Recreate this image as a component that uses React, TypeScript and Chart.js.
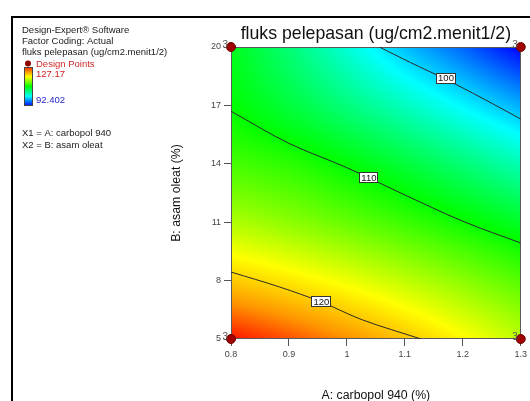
import React, { useEffect, useRef } from "react";
import { Chart, registerables } from "chart.js";

Chart.register(...registerables);

// ---------- data ----------
const TITLE = "fluks pelepasan (ug/cm2.menit1/2)";
const X_TITLE = "A: carbopol 940 (%)";
const Y_TITLE = "B: asam oleat (%)";
const INFO_LINES = ["Design-Expert® Software", "Factor Coding: Actual", "fluks pelepasan (ug/cm2.menit1/2)"];
const DESIGN_LABEL = "Design Points";
const X1_LINE = "X1 = A: carbopol 940";
const X2_LINE = "X2 = B: asam oleat";

const VMIN = 92.402;
const VMAX = 127.17;

// response grid (rows: B = 5..20, cols: A = 0.8..1.3)
const A_VALUES = [0.8, 0.9, 1.0, 1.1, 1.2, 1.3];
const B_VALUES = [5, 8, 11, 14, 17, 20];
const FLUX = [
  [127.17, 125.25, 123.2, 121.03, 118.72, 116.29],
  [120.82, 119.44, 117.93, 116.3, 114.53, 112.64],
  [115.82, 114.6, 113.24, 111.76, 110.16, 108.42],
  [112.16, 111.2, 109.6, 107.8, 105.8, 103.64],
  [109.83, 107.78, 105.6, 103.29, 100.86, 98.3],
  [108.85, 105.81, 102.45, 98.9, 95.8, 92.402],
];

// contour lines
const C100_A = [1.056, 1.11, 1.17, 1.235, 1.3];
const C100_B = [20, 19.2, 18.35, 17.35, 16.3];
const C110_A = [0.8, 0.9, 1.0, 1.1, 1.2, 1.3];
const C110_B = [16.7, 15.05, 13.8, 12.4, 11.05, 9.93];
const C120_A = [0.8, 0.884, 0.956, 1.027, 1.128];
const C120_B = [8.44, 7.67, 6.9, 5.98, 5.0];

const LABEL_VALUES = [100, 110, 120];
const LABEL_A = [1.171, 1.038, 0.956];
const LABEL_B = [18.39, 13.3, 6.93];

const DESIGN_A = [0.8, 0.8, 1.3, 1.3];
const DESIGN_B = [5, 20, 5, 20];
const REPLICATES = [3, 3, 3, 3];

const X_MIN = 0.8, X_MAX = 1.3, X_STEP = 0.1;
const Y_MIN = 5, Y_MAX = 20, Y_STEP = 3;

// ---------- helpers ----------
const FONT = 'Arial, "Liberation Sans", sans-serif';
const STOP_POS = [0, 0.25, 0.5, 0.75, 0.88, 1];
const STOPS = [
  [0, 0, 255],
  [0, 255, 255],
  [0, 255, 0],
  [255, 255, 0],
  [255, 150, 0],
  [255, 20, 0],
];

function colorAt(val: number): number[] {
  let t = (val - VMIN) / (VMAX - VMIN);
  if (t < 0) t = 0;
  if (t > 1) t = 1;
  let i = 0;
  while (i < STOP_POS.length - 2 && t > STOP_POS[i + 1]) i++;
  const f = (t - STOP_POS[i]) / (STOP_POS[i + 1] - STOP_POS[i]);
  const a = STOPS[i], b = STOPS[i + 1];
  return [a[0] + (b[0] - a[0]) * f, a[1] + (b[1] - a[1]) * f, a[2] + (b[2] - a[2]) * f];
}

function cr(p0: number, p1: number, p2: number, p3: number, t: number) {
  const t2 = t * t, t3 = t2 * t;
  return 0.5 * (2 * p1 + (-p0 + p2) * t + (2 * p0 - 5 * p1 + 4 * p2 - p3) * t2 + (-p0 + 3 * p1 - 3 * p2 + p3) * t3);
}

function sample(get: (k: number) => number, n: number, u: number) {
  let i = Math.floor(u);
  if (i > n - 2) i = n - 2;
  if (i < 0) i = 0;
  const t = u - i;
  const g = (k: number) => (k < 0 ? 2 * get(0) - get(1) : k > n - 1 ? 2 * get(n - 1) - get(n - 2) : get(k));
  return cr(g(i - 1), g(i), g(i + 1), g(i + 2), t);
}

function pts(xs: number[], ys: number[]) {
  return xs.map((x, i) => ({ x, y: ys[i] }));
}

// ---------- plugins ----------
const surfacePlugin = {
  id: "surface",
  beforeDatasetsDraw(chart: any) {
    const { ctx, chartArea, scales } = chart;
    const { left, top, right, bottom } = chartArea;
    const xs = scales.x, ys = scales.y;
    const w = Math.round(right - left), h = Math.round(bottom - top);
    const off = document.createElement("canvas");
    off.width = w;
    off.height = h;
    const octx = off.getContext("2d")!;
    const img = octx.createImageData(w, h);
    const nA = A_VALUES.length, nB = B_VALUES.length;
    const dA = A_VALUES[1] - A_VALUES[0], dB = B_VALUES[1] - B_VALUES[0];
    const cache = new Float64Array(w * nB);
    for (let px = 0; px < w; px++) {
      const A = xs.getValueForPixel(left + px + 0.5);
      const u = (A - A_VALUES[0]) / dA;
      for (let j = 0; j < nB; j++) {
        const row = FLUX[j];
        cache[px * nB + j] = sample((k) => row[k], nA, u);
      }
    }
    for (let py = 0; py < h; py++) {
      const B = ys.getValueForPixel(top + py + 0.5);
      const v = (B - B_VALUES[0]) / dB;
      for (let px = 0; px < w; px++) {
        const base = px * nB;
        const val = sample((k) => cache[base + k], nB, v);
        const c = colorAt(val);
        const o = (py * w + px) * 4;
        img.data[o] = c[0];
        img.data[o + 1] = c[1];
        img.data[o + 2] = c[2];
        img.data[o + 3] = 255;
      }
    }
    octx.putImageData(img, 0, 0);
    ctx.save();
    ctx.drawImage(off, left, top);
    ctx.strokeStyle = "#5a5a5a";
    ctx.lineWidth = 1;
    ctx.strokeRect(left + 0.5, top + 0.5, w - 1, h - 1);
    ctx.restore();
  },
  afterDatasetsDraw(chart: any) {
    const { ctx, scales } = chart;
    const xs = scales.x, ys = scales.y;
    ctx.save();
    // contour labels
    ctx.font = `9.5px ${FONT}`;
    ctx.textAlign = "center";
    ctx.textBaseline = "middle";
    LABEL_VALUES.forEach((v, i) => {
      const px = xs.getPixelForValue(LABEL_A[i]);
      const py = ys.getPixelForValue(LABEL_B[i]);
      const txt = String(v);
      const tw = ctx.measureText(txt).width;
      const bw = Math.round(tw + 4), bh = 11;
      const bx = Math.round(px - bw / 2), by = Math.round(py - bh / 2);
      ctx.fillStyle = "#ffffff";
      ctx.fillRect(bx, by, bw, bh);
      ctx.strokeStyle = "#333333";
      ctx.lineWidth = 1;
      ctx.strokeRect(bx + 0.5, by + 0.5, bw - 1, bh - 1);
      ctx.fillStyle = "#111111";
      ctx.fillText(txt, px, py + 0.5);
    });
    // replicate counts
    ctx.font = `10px ${FONT}`;
    ctx.fillStyle = "#555555";
    ctx.textAlign = "right";
    ctx.textBaseline = "middle";
    DESIGN_A.forEach((a, i) => {
      const px = xs.getPixelForValue(a);
      const py = ys.getPixelForValue(DESIGN_B[i]);
      ctx.fillText(String(REPLICATES[i]), px - 3, py - 2);
    });
    ctx.restore();
  },
  afterDraw(chart: any) {
    const { ctx, chartArea } = chart;
    ctx.save();
    // frame
    ctx.fillStyle = "#000000";
    ctx.fillRect(11, 16, 530 - 11, 2);
    ctx.fillRect(11, 16, 2, 401 - 16);
    // title
    ctx.font = `17.7px ${FONT}`;
    ctx.fillStyle = "#111111";
    ctx.textAlign = "center";
    ctx.textBaseline = "alphabetic";
    ctx.fillText(TITLE, (chartArea.left + chartArea.right) / 2, 39);
    // info legend
    ctx.textAlign = "left";
    ctx.font = `9.5px ${FONT}`;
    ctx.fillStyle = "#1a1a1a";
    const infoY = [32.8, 44, 55];
    INFO_LINES.forEach((t, i) => ctx.fillText(t, 22, infoY[i]));
    ctx.fillStyle = "#8c0000";
    ctx.beginPath();
    ctx.arc(28, 63.5, 3, 0, Math.PI * 2);
    ctx.fill();
    ctx.fillStyle = "#d02828";
    ctx.fillText(DESIGN_LABEL, 36, 67);
    // color bar
    const g = ctx.createLinearGradient(0, 106, 0, 67);
    STOPS.forEach((c, i) => g.addColorStop(STOP_POS[i], `rgb(${c[0]},${c[1]},${c[2]})`));
    ctx.fillStyle = g;
    ctx.fillRect(24, 67, 9, 39);
    ctx.strokeStyle = "#444444";
    ctx.lineWidth = 1;
    ctx.strokeRect(24.5, 67.5, 8, 38);
    ctx.fillStyle = "#d02020";
    ctx.fillText(String(VMAX), 36, 77);
    ctx.fillStyle = "#2424c8";
    ctx.fillText(String(VMIN), 36, 102.5);
    ctx.fillStyle = "#1a1a1a";
    ctx.fillText(X1_LINE, 22, 136);
    ctx.fillText(X2_LINE, 22, 148);
    ctx.restore();
  },
};

export default function App() {
  const ref = useRef<HTMLCanvasElement>(null);
  useEffect(() => {
    document.body.style.margin = "0";
    const canvas = ref.current!;
    const contourStyle = {
      showLine: true,
      borderColor: "#2a2a2a",
      borderWidth: 1,
      pointRadius: 0,
      pointHoverRadius: 0,
      tension: 0.35,
      fill: false,
    };
    const chart = new Chart(canvas, {
      type: "scatter",
      data: {
        datasets: [
          {
            label: "Design Points",
            data: pts(DESIGN_A, DESIGN_B),
            pointRadius: 4.5,
            pointBackgroundColor: "#a00000",
            pointBorderColor: "#6a0000",
            pointBorderWidth: 1,
            showLine: false,
            clip: false,
          } as any,
          { label: "100", data: pts(C100_A, C100_B), ...contourStyle } as any,
          { label: "110", data: pts(C110_A, C110_B), ...contourStyle } as any,
          { label: "120", data: pts(C120_A, C120_B), ...contourStyle } as any,
        ],
      },
      options: {
        responsive: false,
        animation: false,
        devicePixelRatio: 1,
        layout: { padding: { left: 0, right: 8, top: 47, bottom: 0 } },
        plugins: { legend: { display: false }, tooltip: { enabled: false }, title: { display: false } },
        events: [],
        scales: {
          x: {
            type: "linear",
            min: X_MIN,
            max: X_MAX,
            afterFit: (s: any) => {
              s.height = 62;
            },
            border: { display: false },
            grid: { display: true, drawOnChartArea: false, drawTicks: true, tickLength: 7, tickColor: "#555555" },
            ticks: {
              stepSize: X_STEP,
              autoSkip: false,
              maxRotation: 0,
              padding: 3,
              color: "#444444",
              font: { size: 9, family: FONT },
              callback: (v: any) => String(Math.round(Number(v) * 10) / 10),
            },
            title: {
              display: true,
              text: X_TITLE,
              color: "#111111",
              font: { size: 12.3, family: FONT },
              padding: { top: 0, bottom: -2.4 },
            },
          },
          y: {
            type: "linear",
            min: Y_MIN,
            max: Y_MAX,
            afterFit: (s: any) => {
              s.width = 231;
            },
            border: { display: false },
            grid: { display: true, drawOnChartArea: false, drawTicks: true, tickLength: 7, tickColor: "#555555" },
            ticks: {
              stepSize: Y_STEP,
              autoSkip: false,
              padding: 3,
              color: "#444444",
              font: { size: 9, family: FONT },
            },
            title: {
              display: true,
              text: Y_TITLE,
              color: "#111111",
              font: { size: 12.3, family: FONT },
              padding: { top: 169.6, bottom: 0 },
            },
          },
        },
      } as any,
      plugins: [surfacePlugin],
    });
    return () => chart.destroy();
  }, []);
  return (
    <div style={{ width: 530, height: 401, position: "relative", overflow: "hidden", background: "#ffffff" }}>
      <canvas ref={ref} width={530} height={401} style={{ display: "block", width: 530, height: 401 }} />
    </div>
  );
}
